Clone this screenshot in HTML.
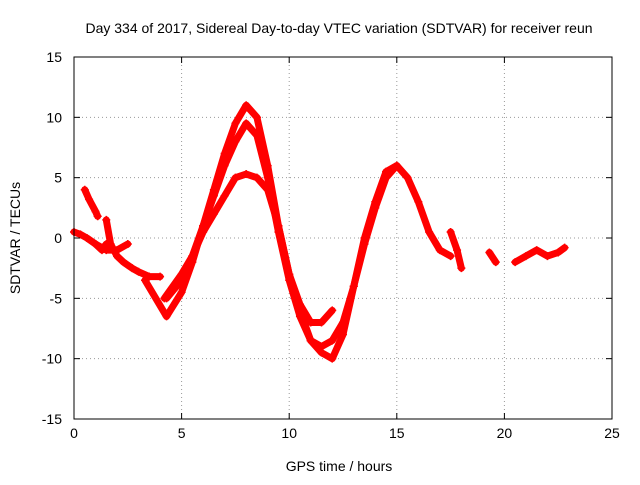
<!DOCTYPE html>
<html><head><meta charset="utf-8"><style>
body{margin:0;background:#fff;}
svg{font-family:"Liberation Sans",sans-serif;}
</style></head><body>
<svg id="chart" width="640" height="480">
<rect width="640" height="480" fill="#fff"/>
<text x="339" y="33" font-size="14" text-anchor="middle">Day 334 of 2017, Sidereal Day-to-day VTEC variation (SDTVAR) for receiver reun</text>
<g id="grid"></g><g id="series"></g><g id="axes"></g>
<text x="339" y="471" font-size="14" text-anchor="middle">GPS time / hours</text>
<text x="20" y="238" font-size="14" text-anchor="middle" transform="rotate(-90 20 238)">SDTVAR / TECUs</text>
</svg>
<script>
const xTicks=[0,5,10,15,20,25];
const yTicks=[-15,-10,-5,0,5,10,15];
const trackTimes=[
[3.3,4.3,5,5.5,6,6.5,7,7.5,8,8.5,9,9.5,10,10.5,11,11.5,12,12.5,13,13.5,14,14.5,15,15.5,16,16.5,17,17.5],
[4.3,5,5.5,6,6.5,7,7.5,8,8.5,9,9.5,10,10.5,11,11.5,12,12.5,13,13.5,14,14.5,15],
[4.2,5,5.5,6,6.5,7,7.5,8,8.5,9,9.5,10,10.5,11,11.5,12],
[0.5,0.7,1,1.1],
[0,0.3,0.6,1,1.3,1.5],
[1.5,1.7,2,2.3,2.7,3,3.5,4],
[1,1.5,2,2.5],
[17.5,17.8,18],
[19.3,19.6],
[20.5,21,21.5,22,22.5,22.8]];
const trackValues=[
[-3.5,-6.5,-4.5,-2,1,4,7,9.5,11,10,6,1,-3,-6,-8.5,-9.5,-10,-8,-4,0,3,5.5,6,5,3,0.5,-1,-1.5],
[-5,-3.5,-1.5,1,3.5,6,8,9.5,8.5,5,0.5,-3.5,-6.5,-8.5,-9,-8.5,-7,-4,-0.5,2.5,5,6],
[-5,-3,-1.5,0.5,2,3.5,5,5.3,5,4,1,-3,-5.5,-7,-7,-6],
[4,3.2,2.2,1.8],
[0.5,0.3,0,-0.5,-1,-0.5],
[1.5,-0.5,-1.5,-2,-2.5,-2.8,-3.2,-3.2],
[-0.5,-1,-1,-0.5],
[0.5,-1,-2.5],
[-1.2,-2],
[-2,-1.5,-1,-1.5,-1.2,-0.8]];
const X0=74,X1=612,Y0=419,Y1=57;
const xs=v=>X0+(v-0)/(25-0)*(X1-X0);
const ys=v=>Y0-(v+15)/30*(Y0-Y1);
const NS="http://www.w3.org/2000/svg";
function mk(t,p,a){const e=document.createElementNS(NS,t);for(const k in a)e.setAttribute(k,a[k]);p.appendChild(e);return e;}
const grid=document.getElementById('grid'),axes=document.getElementById('axes'),ser=document.getElementById('series');
xTicks.forEach(v=>{const x=xs(v);
 if(v>0&&v<25){const g=mk('line',grid,{x1:x,x2:x,y1:Y1,y2:Y0,stroke:'#999','stroke-dasharray':'1,3'});
 }
 mk('line',axes,{x1:x,x2:x,y1:Y0,y2:Y0-6,stroke:'#000'});mk('line',axes,{x1:x,x2:x,y1:Y1,y2:Y1+6,stroke:'#000'});
 const t=mk('text',axes,{x:x,y:Y0+19,'font-size':14,'text-anchor':'middle'});t.textContent=v;
 });
yTicks.forEach(v=>{const y=ys(v);
 if(v>-15&&v<15){const g=mk('line',grid,{x1:X0,x2:X1,y1:y,y2:y,stroke:'#999','stroke-dasharray':'1,3'});
 }
 mk('line',axes,{x1:X0,x2:X0+6,y1:y,y2:y,stroke:'#000'});mk('line',axes,{x1:X1,x2:X1-6,y1:y,y2:y,stroke:'#000'});
 const t=mk('text',axes,{x:X0-12,y:y+5,'font-size':14,'text-anchor':'end'});t.textContent=v;
 });
const fr=mk('rect',axes,{x:X0,y:Y1,width:X1-X0,height:Y0-Y1,fill:'none',stroke:'#000'});

trackTimes.forEach((ts,i)=>{const vs=trackValues[i];
 const pts=ts.map((t,j)=>xs(t)+','+ys(vs[j])).join(' ');
 const pl=mk('polyline',ser,{points:pts,fill:'none',stroke:'#f00','stroke-width':7,'stroke-linejoin':'round','stroke-linecap':'round'});
 
 ts.forEach((t,j)=>{const x=xs(t),y=ys(vs[j]);
  const p=mk('path',ser,{d:`M${x-4},${y}H${x+4}M${x},${y-4}V${y+4}`,stroke:'#f00','stroke-width':1.5});
  });
});
</script>
</body></html>
